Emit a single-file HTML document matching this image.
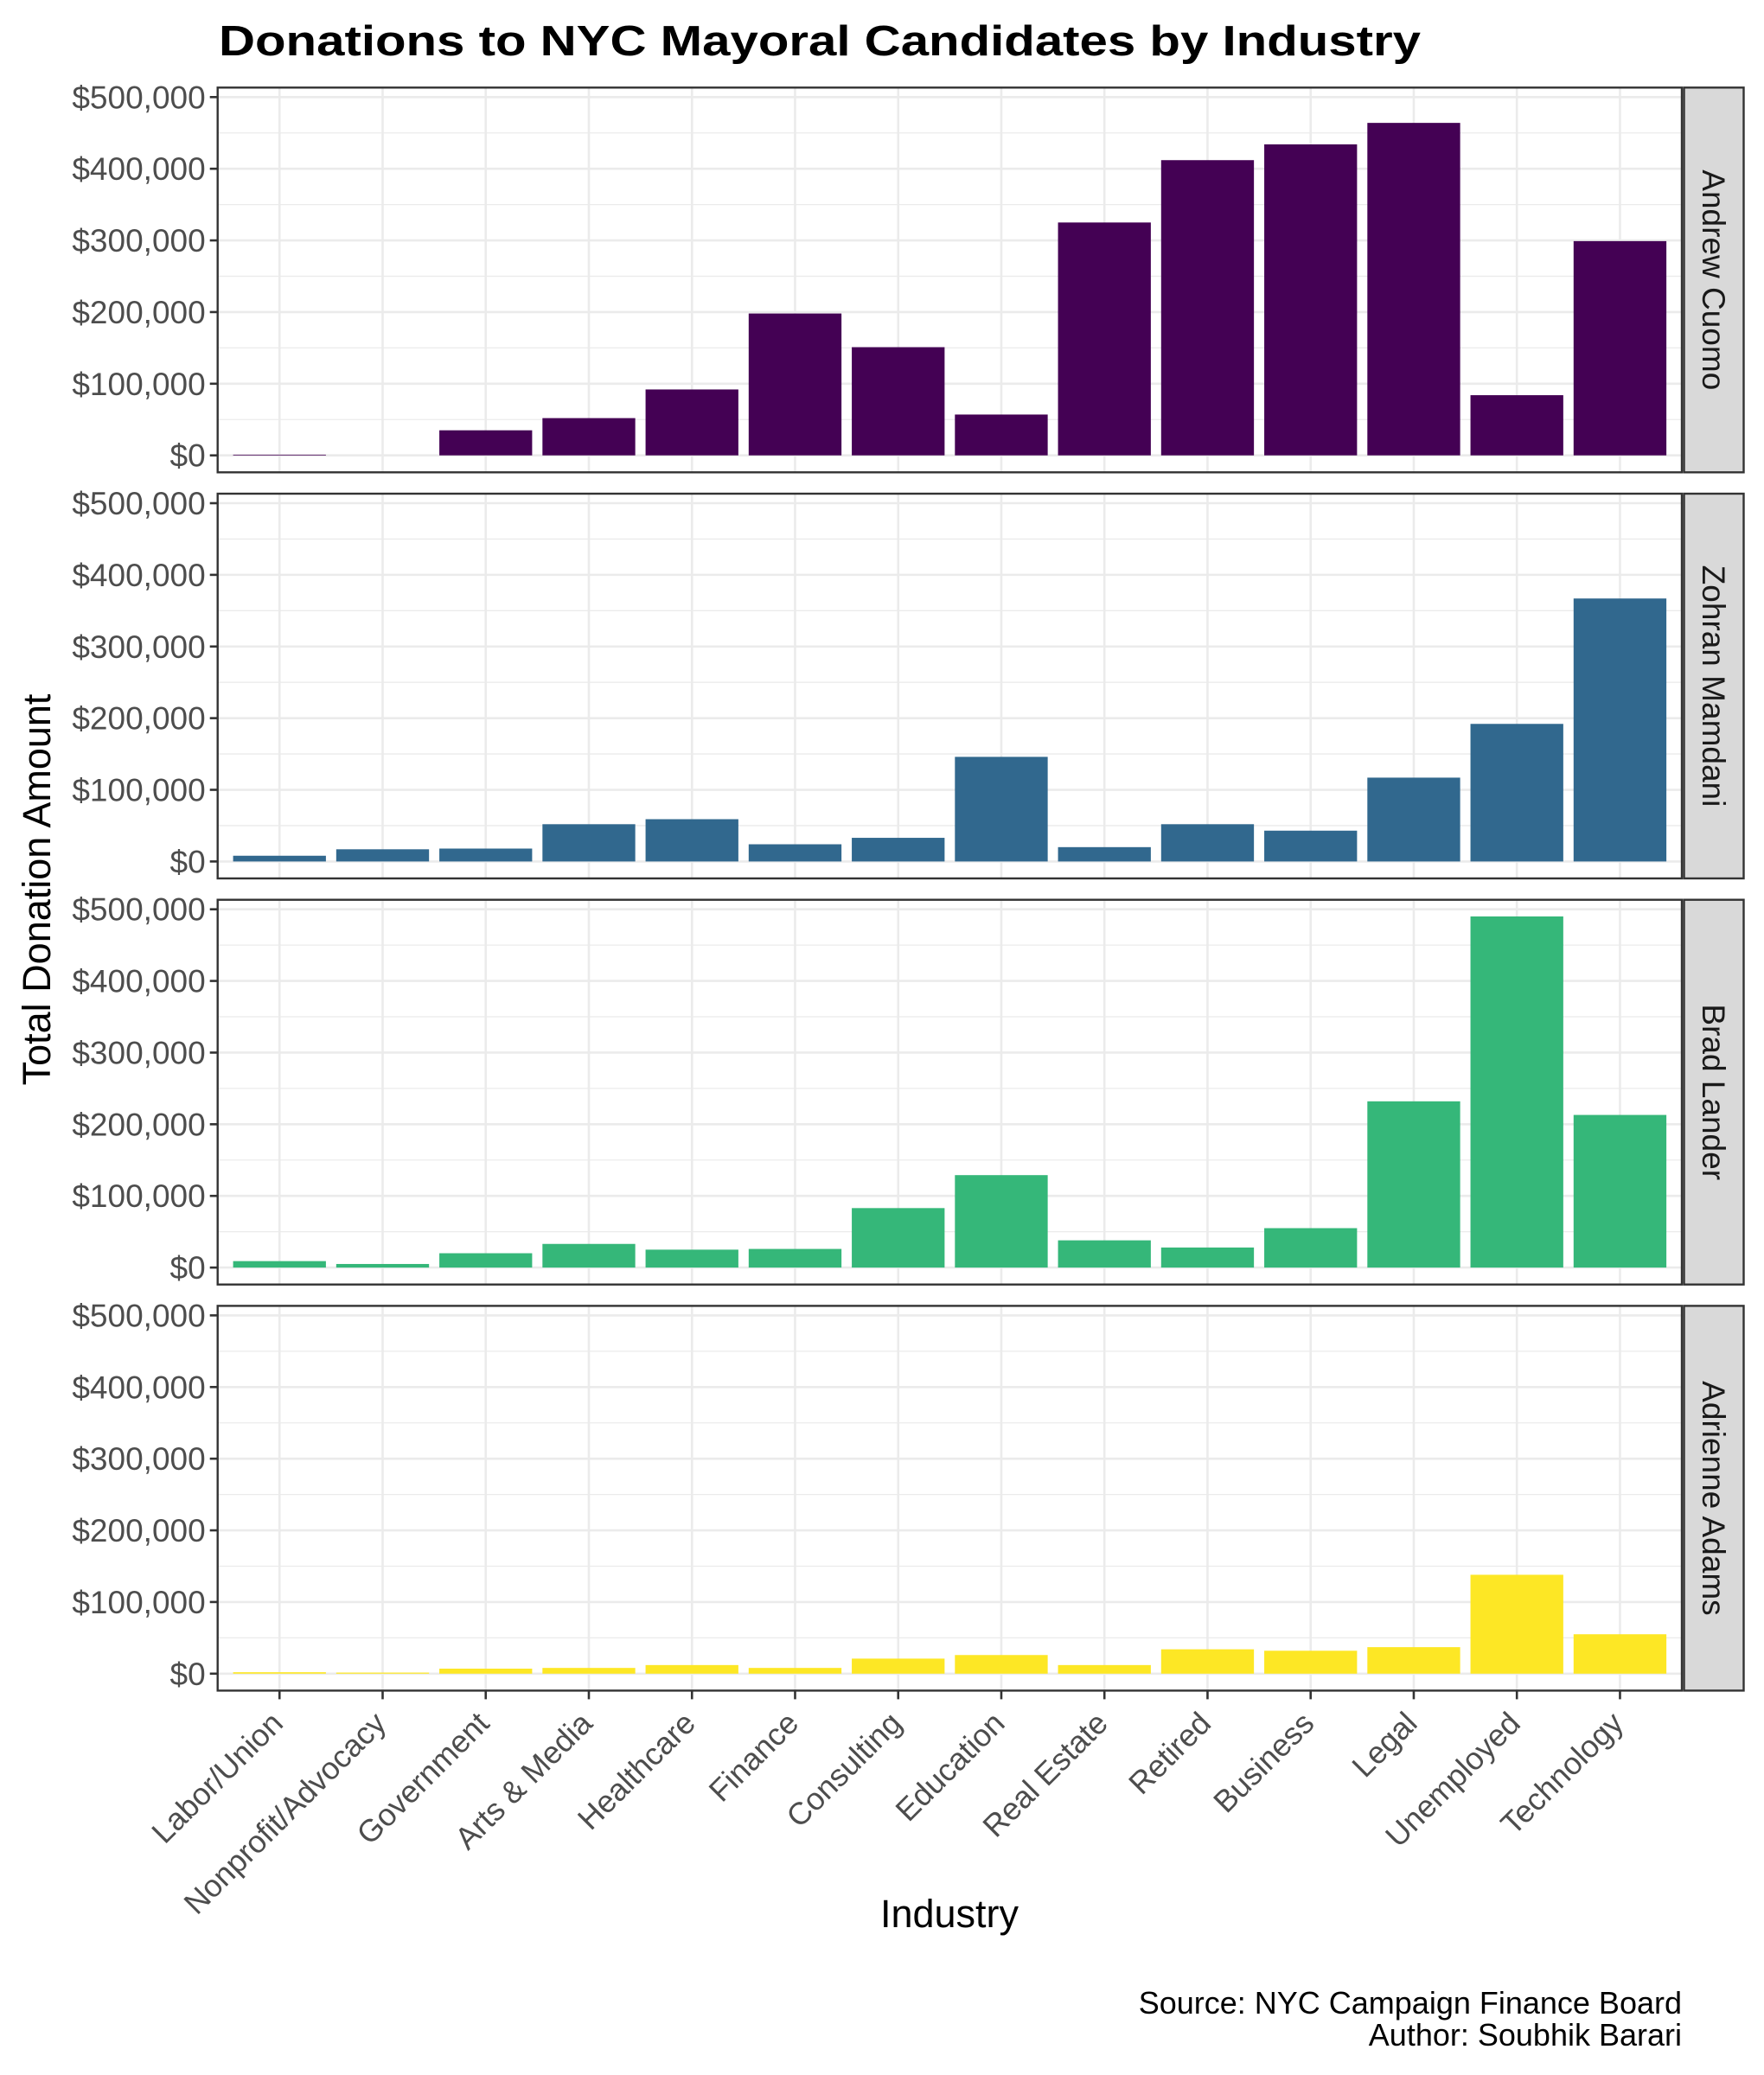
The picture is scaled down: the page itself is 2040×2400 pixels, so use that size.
<!DOCTYPE html>
<html><head><meta charset="utf-8"><style>
html,body{margin:0;padding:0;background:#fff}
svg{display:block}
text{font-family:"Liberation Sans",sans-serif}
</style></head><body>
<svg id="chart" width="2040" height="2400" viewBox="0 0 2040 2400" xmlns="http://www.w3.org/2000/svg">
<text x="253" y="64" font-size="49" font-weight="bold" fill="#000" textLength="1390" lengthAdjust="spacingAndGlyphs">Donations to NYC Mayoral Candidates by Industry</text>
<text transform="translate(58,1029) rotate(-90)" text-anchor="middle" font-size="45" fill="#000">Total Donation Amount</text>
<text x="1098" y="2229" text-anchor="middle" font-size="45" fill="#000">Industry</text>
<text x="1945" y="2329" text-anchor="end" font-size="36" fill="#000">Source: NYC Campaign Finance Board</text>
<text x="1945" y="2366" text-anchor="end" font-size="36" fill="#000">Author: Soubhik Barari</text>
<g id="panels"></g>
</svg>
<script>
const categories = ["Labor/Union","Nonprofit/Advocacy","Government","Arts & Media","Healthcare","Finance","Consulting","Education","Real Estate","Retired","Business","Legal","Unemployed","Technology"];
const candidates = ["Andrew Cuomo","Zohran Mamdani","Brad Lander","Adrienne Adams"];
const cuomoValues = [1000,0,35000,52000,92000,198000,151000,57000,325000,412000,434000,464000,84000,299000];
const mamdaniValues = [8000,17000,18000,52000,59000,24000,33000,146000,20000,52000,43000,117000,192000,367000];
const landerValues = [9000,5000,20000,33000,25000,26000,83000,129000,38000,28000,55000,232000,490000,213000];
const adamsValues = [2000,1500,7000,8000,12000,8000,21000,26000,12000,34000,32000,37000,138000,55000];
const yTicks = [0,100000,200000,300000,400000,500000];
const yTickLabels = ["$0","$100,000","$200,000","$300,000","$400,000","$500,000"];

const seriesValues = [cuomoValues, mamdaniValues, landerValues, adamsValues];
const colors = ["#440154","#31688e","#35b779","#fde725"];
const NS = "http://www.w3.org/2000/svg";
const root = document.getElementById("panels");
const PL = 251.7, PR = 1945, PH = 445, PITCH = 469.7, TOP0 = 101.3;
const step = (PR - PL) / (categories.length - 1 + 1.2);
function xScale(i){ return PL + step * (0.6 + i); }
function yScale(v, top){ const zero = top + 425.4, y500 = top + 11; return zero - (v / 500000) * (zero - y500); }
function mk(tag, attrs, parent){ const e = document.createElementNS(NS, tag); for (const k in attrs) e.setAttribute(k, attrs[k]); parent.appendChild(e); return e; }

candidates.forEach((cand, p) => {
  const top = TOP0 + PITCH * p;
  const g = mk("g", {}, root);
  
  
  const bg = mk("rect", {x:PL, y:top, width:PR-PL, height:PH, fill:"#fff"}, g);
  
  
  for (let k = 0; k < yTicks.length - 1; k++) {
    const y = yScale((yTicks[k] + yTicks[k+1]) / 2, top);
    const l = mk("line", {x1:PL, x2:PR, y1:y, y2:y, stroke:"#ebebeb", "stroke-width":1.3}, g);
    
    
  }
  yTicks.forEach((t, k) => {
    const y = yScale(t, top);
    const l = mk("line", {x1:PL, x2:PR, y1:y, y2:y, stroke:"#ebebeb", "stroke-width":2.6}, g);
    
    
    const tk = mk("line", {x1:PL-9, x2:PL, y1:y, y2:y, stroke:"#333", "stroke-width":2.6}, g);
    
    
    const tx = mk("text", {x:PL-14, y:y+13, "text-anchor":"end", "font-size":37, fill:"#4d4d4d"}, g);
    tx.textContent = yTickLabels[k];
    
    
  });
  categories.forEach((c, i) => {
    const x = xScale(i);
    const l = mk("line", {x1:x, x2:x, y1:top, y2:top+PH, stroke:"#ebebeb", "stroke-width":2.6}, g);
    
    
  });
  const vals = seriesValues[p];
  vals.forEach((v, i) => {
    if (v <= 0) return;
    const bw = step * 0.9;
    const y0 = yScale(0, top), y1 = yScale(v, top);
    const h = Math.max(y0 - y1, 0.8);
    const r = mk("rect", {x:xScale(i)-bw/2, y:y0-h, width:bw, height:h, fill:colors[p]}, g);
    
    
  });
  const border = mk("rect", {x:PL, y:top, width:PR-PL, height:PH, fill:"none", stroke:"#333", "stroke-width":2.4}, g);
  
  
  const strip = mk("rect", {x:1947.5, y:top, width:69, height:PH, fill:"#d9d9d9", stroke:"#333", "stroke-width":2.4}, g);
  
  
  const st = mk("text", {transform:"translate(1969," + (top + PH/2) + ") rotate(90)", "text-anchor":"middle", "font-size":37, fill:"#1a1a1a"}, g);
  st.textContent = cand;
  
  
});

const lastBottom = TOP0 + PITCH * 3 + PH;
const xa = mk("g", {}, root);


categories.forEach((c, i) => {
  const x = xScale(i);
  const tk = mk("line", {x1:x, x2:x, y1:lastBottom, y2:lastBottom+10, stroke:"#333", "stroke-width":2.6}, xa);
  
  
  const t = mk("text", {transform:"translate(" + (x+6) + "," + (lastBottom+40) + ") rotate(-45)", "text-anchor":"end", "font-size":36, fill:"#4d4d4d"}, xa);
  t.textContent = c;
  
  
});
</script>
</body></html>
